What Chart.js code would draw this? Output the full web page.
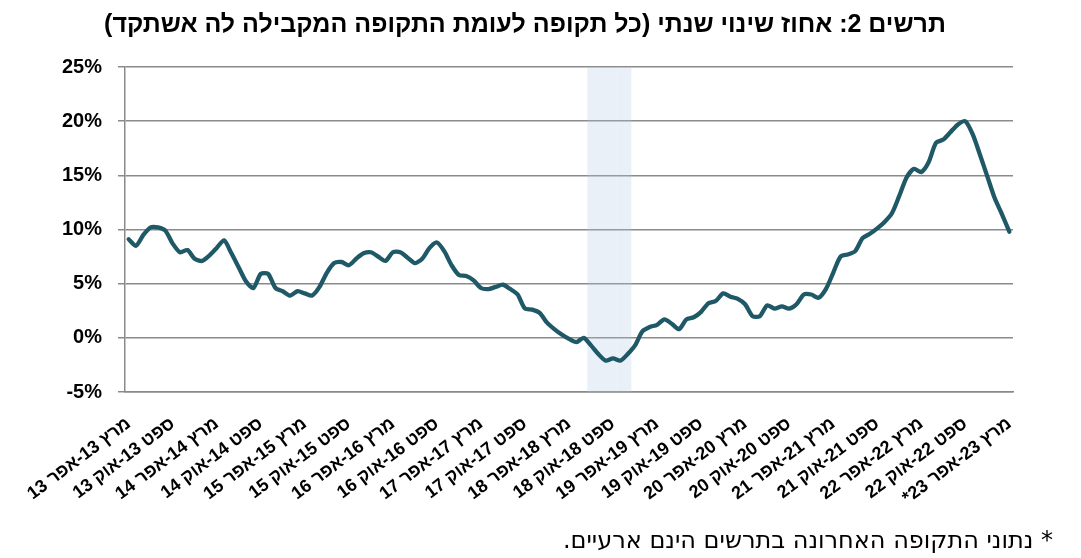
<!DOCTYPE html>
<html lang="he">
<head>
<meta charset="utf-8">
<script src="https://cdn.jsdelivr.net/npm/chart.js@4"></script>
<style>
  body { margin: 0; background: #fff; }
  #wrap { position: relative; width: 1081px; height: 558px; }
  #title {
    position: absolute; left: 0; top: 9px; width: 1050px;
    text-align: center; direction: rtl;
    font: bold 25px "Liberation Sans Narrow", "Liberation Sans", Arial, sans-serif;
    color: #000;
  }
  #note {
    position: absolute; right: 28px; top: 526px;
    direction: rtl;
    font: 24px "DejaVu Sans", sans-serif;
    color: #000;
  }
  canvas { position: absolute; left: 0; top: 0; }
</style>
</head>
<body>
<div id="wrap">
  <canvas id="yoyChart" width="1081" height="558"></canvas>
  <div id="title">תרשים 2: אחוז שינוי שנתי (כל תקופה לעומת התקופה המקבילה לה אשתקד)</div>
  <div id="note">* נתוני התקופה האחרונה בתרשים הינם ארעיים.</div>
</div>
<script>
// two-month rolling periods, Mar-Apr 2013 .. Mar-Apr 2023
const monthNames = ["ינו", "פבר", "מרץ", "אפר", "מאי", "יונ", "יול", "אוג", "ספט", "אוק", "נוב", "דצמ"];
const firstYear = 13;
const firstMonth = 2; // מרץ

// annual % change
const yoyChange = [
  9.1, 8.5, 9.5, 10.2, 10.2, 9.9, 8.7, 7.9, 8.1, 7.3,
  7.1, 7.6, 8.3, 9.0, 7.8, 6.5, 5.2, 4.6, 5.9, 5.9,
  4.6, 4.3, 3.9, 4.3, 4.1, 3.9, 4.7, 6.0, 6.9, 7.0,
  6.7, 7.3, 7.8, 7.9, 7.5, 7.1, 7.9, 7.9, 7.4, 6.9,
  7.3, 8.3, 8.8, 8.0, 6.7, 5.8, 5.7, 5.3, 4.6, 4.5,
  4.7, 4.9, 4.5, 4.0, 2.7, 2.6, 2.3, 1.4, 0.8, 0.3,
  -0.1, -0.4, 0.0, -0.7, -1.5, -2.1, -1.9, -2.1, -1.5, -0.7,
  0.6, 1.0, 1.2, 1.7, 1.3, 0.8, 1.7, 1.9, 2.4, 3.2,
  3.4, 4.1, 3.8, 3.6, 3.1, 2.0, 2.0, 3.0, 2.7, 2.9,
  2.7, 3.1, 4.0, 4.0, 3.7, 4.5, 6.0, 7.5, 7.7, 8.0,
  9.2, 9.6, 10.1, 10.7, 11.5, 13.1, 14.8, 15.6, 15.3, 16.2,
  18.0, 18.3, 19.0, 19.7, 20.0, 18.8, 16.9, 14.9, 12.9, 11.4,
  9.8
];

// shaded periods (indices into categories)
const shadedFrom = 63;
const shadedTo = 68;

const categories = yoyChange.map((v, i) => {
  const m1 = firstMonth + i;
  const m2 = m1 + 1;
  const y1 = firstYear + Math.floor(m1 / 12);
  const y2 = firstYear + Math.floor(m2 / 12);
  return monthNames[m1 % 12] + " " + y1 + "-" + monthNames[m2 % 12] + " " + y2;
});
const lastIdx = categories.length - 1;
categories[lastIdx] = categories[lastIdx] + "*\u200F";

const band = categories.map((c, i) => (i >= shadedFrom && i <= shadedTo) ? [-5, 25] : null);

const gridColor = "#8a8a8a";
const fontFamily = "'Liberation Sans', Arial, sans-serif";

const ctx = document.getElementById("yoyChart").getContext("2d");
new Chart(ctx, {
  type: "line",
  data: {
    labels: categories,
    datasets: [
      {
        label: "yoy",
        data: yoyChange,
        borderColor: "#1f5866",
        borderWidth: 4.3,
        pointRadius: 0,
        tension: 0.25,
        borderJoinStyle: "round",
        borderCapStyle: "round",
        fill: false,
        order: 0,
      },
      {
        type: "bar",
        label: "band",
        data: band,
        backgroundColor: "rgba(180, 200, 230, 0.28)",
        borderWidth: 0,
        inflateAmount: 0,
        categoryPercentage: 1,
        barPercentage: 1,
        order: 1,
      },
    ],
  },
  options: {
    responsive: false,
    animation: false,
    layout: { padding: { top: 67, right: 68, left: 0, bottom: 0 } },
    plugins: {
      legend: { display: false },
      tooltip: { enabled: false },
    },
    scales: {
      x: {
        offset: true,
        grid: { display: false },
        border: { display: true, color: gridColor, width: 1.5 },
        ticks: {
          autoSkip: false,
          maxRotation: 37,
          minRotation: 37,
          padding: 13,
          color: "#000",
          font: { family: fontFamily, size: 18, weight: "bold" },
          callback: function (value, index) {
            return index % 6 === 0 ? this.getLabelForValue(value) : null;
          },
        },
        afterFit: (scale) => { scale.height = 166; },
      },
      y: {
        min: -5,
        max: 25,
        grid: { color: gridColor, lineWidth: 1.5, tickLength: 7 },
        border: { display: true, color: gridColor, width: 1.5 },
        ticks: {
          stepSize: 5,
          padding: 16,
          color: "#000",
          font: { family: fontFamily, size: 20, weight: "bold" },
          callback: (v) => v + "%",
        },
        afterFit: (scale) => { scale.width = 125; },
      },
    },
  },
});
</script>
</body>
</html>
